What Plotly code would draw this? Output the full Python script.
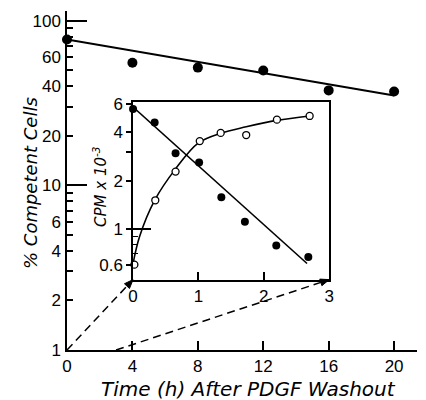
import plotly.graph_objects as go

# ---------------- data ----------------
main_x = [0, 4, 8, 12, 16, 20]
main_y = [77, 55.7, 52, 49.9, 37.8, 37.2]
main_fit_x = [0, 20]
main_fit_y = [77, 35.2]

ins_filled_x = [0.0, 0.33, 0.65, 1.01, 1.35, 1.71, 2.19, 2.68]
ins_filled_y = [5.6, 4.6, 2.96, 2.6, 1.58, 1.11, 0.79, 0.67]
ins_filled_fit_x = [0.0, 2.66]
ins_filled_fit_y = [5.75, 0.61]

ins_open_x = [0.02, 0.34, 0.65, 1.02, 1.34, 1.73, 2.2, 2.7]
ins_open_y = [0.60, 1.51, 2.28, 3.53, 3.97, 3.85, 4.8, 5.06]
ins_curve_x = [0.0, 0.1, 0.33, 0.65, 1.0, 1.34, 1.73, 2.2, 2.7]
ins_curve_y = [0.61, 0.9, 1.51, 2.37, 3.44, 3.95, 4.33, 4.75, 5.06]

main_xticks = [0, 4, 8, 12, 16, 20]
main_yticks = [1, 2, 4, 6, 10, 20, 40, 60, 100]
main_yminor = [3, 5, 7, 8, 9, 30, 50, 70, 80, 90]
ins_xticks = [0, 1, 2, 3]
ins_yticks = [0.6, 1, 2, 4, 6]
ins_ytext = ["0.6", "1", "2", "4", "6"]

# ---------------- layout geometry ----------------
W, H = 426, 400
ML, MR, MT, MB = 67, 4, 8, 50
PW, PH = W - ML - MR, H - MT - MB
X1_RANGE = [0, 21.4]
Y1_RANGE = [0, 2.06]
X2_DOM = [(134 - ML) / PW, (333 - ML) / PW]
Y2_DOM = [(MT + PH - 279) / PH, (MT + PH - 100) / PH]
X2_RANGE = [0, 3]
Y2_RANGE = [-0.315, 0.79]

TICKFONT = dict(family="Liberation Sans, Arial, sans-serif", size=17, color="black")
TITLEFONT = dict(family="DejaVu Sans, sans-serif", size=20, color="black")

fig = go.Figure()

# main panel
fig.add_trace(go.Scatter(x=main_fit_x, y=main_fit_y, mode="lines",
                         line=dict(color="black", width=2), cliponaxis=False,
                         showlegend=False, hoverinfo="skip"))
fig.add_trace(go.Scatter(x=main_x, y=main_y, mode="markers",
                         marker=dict(color="black", size=10), cliponaxis=False,
                         showlegend=False))

# inset
fig.add_trace(go.Scatter(x=ins_filled_fit_x, y=ins_filled_fit_y, mode="lines",
                         line=dict(color="black", width=1.6), xaxis="x2", yaxis="y2",
                         cliponaxis=False, showlegend=False, hoverinfo="skip"))
fig.add_trace(go.Scatter(x=ins_curve_x, y=ins_curve_y, mode="lines",
                         line=dict(color="black", width=1.6, shape="spline", smoothing=1.0),
                         xaxis="x2", yaxis="y2", cliponaxis=False, showlegend=False,
                         hoverinfo="skip"))
fig.add_trace(go.Scatter(x=ins_filled_x, y=ins_filled_y, mode="markers",
                         marker=dict(color="black", size=8), xaxis="x2", yaxis="y2",
                         cliponaxis=False, showlegend=False))
fig.add_trace(go.Scatter(x=ins_open_x, y=ins_open_y, mode="markers",
                         marker=dict(color="white", size=7, line=dict(color="black", width=1.3)),
                         xaxis="x2", yaxis="y2", cliponaxis=False, showlegend=False))

# invisible traces to anchor the overlay tick axes
fig.add_trace(go.Scatter(x=[1], y=[10], mode="markers", marker=dict(opacity=0),
                         yaxis="y4", showlegend=False, hoverinfo="skip"))
fig.add_trace(go.Scatter(x=[1], y=[1], mode="markers", marker=dict(opacity=0),
                         xaxis="x2", yaxis="y3", showlegend=False, hoverinfo="skip"))

axis_common = dict(showgrid=False, zeroline=False, showline=True, linecolor="black",
                   linewidth=1.5, tickcolor="black", tickwidth=1.5, tickfont=TICKFONT)

fig.update_layout(
    width=W, height=H,
    margin=dict(l=ML, r=MR, t=MT, b=MB),
    paper_bgcolor="white", plot_bgcolor="rgba(0,0,0,0)",
    xaxis=dict(range=X1_RANGE, tickvals=main_xticks, ticks="inside", ticklen=9,
               anchor="y", ticklabelstandoff=0, **axis_common),
    yaxis=dict(type="log", range=Y1_RANGE, tickvals=main_yticks,
               ticktext=[str(v) for v in main_yticks], ticks="inside", ticklen=6,
               anchor="x", ticklabelstandoff=1,
               minor=dict(tickmode="array", tickvals=main_yminor, ticks="inside",
                          ticklen=6, tickcolor="black", tickwidth=1.5),
               **axis_common),
    yaxis4=dict(type="log", range=Y1_RANGE, overlaying="y", anchor="x", side="left",
                tickvals=[10, 100], ticks="inside", ticklen=20, tickwidth=1.5,
                tickcolor="black", showticklabels=False, showgrid=False,
                zeroline=False, showline=False),
    xaxis2=dict(domain=X2_DOM, range=X2_RANGE, anchor="y2", tickvals=ins_xticks,
                ticks="inside", ticklen=8, mirror=True, **axis_common),
    yaxis2=dict(domain=Y2_DOM, type="log", range=Y2_RANGE, anchor="x2",
                tickvals=ins_yticks, ticktext=ins_ytext, ticks="outside", ticklen=5,
                mirror=True, ticklabelstandoff=0,
                minor=dict(tickmode="array", tickvals=[3], ticks="outside", ticklen=5,
                           tickcolor="black", tickwidth=1.5),
                **axis_common),
    yaxis3=dict(type="log", range=Y2_RANGE, overlaying="y2", anchor="x2", side="left",
                tickvals=[1], ticks="inside", ticklen=18, tickwidth=1.5,
                tickcolor="black", showticklabels=False, showgrid=False,
                zeroline=False, showline=False,
                minor=dict(tickmode="array", tickvals=[0.7, 0.8, 0.9], ticks="inside",
                           ticklen=5, tickcolor="black", tickwidth=1.2)),
)

# axis titles
fig.add_annotation(text="<i>% Competent Cells</i>", xref="paper", yref="paper",
                   x=(30 - ML) / PW, y=(MT + PH - 182) / PH, textangle=-90,
                   showarrow=False, font=dict(TITLEFONT, size=18),
                   xanchor="center", yanchor="middle")
fig.add_annotation(text="<i>Time (h) After PDGF Washout</i>", xref="paper", yref="paper",
                   x=(251 - ML) / PW, y=(MT + PH - 389) / PH,
                   showarrow=False, font=TITLEFONT, xanchor="center", yanchor="middle",
                   borderpad=0)
fig.add_annotation(text="<i>CPM x 10<sup>-3</sup></i>", xref="paper", yref="paper",
                   x=(101 - ML) / PW, y=(MT + PH - 186) / PH, textangle=-90,
                   showarrow=False, font=dict(family="DejaVu Sans, sans-serif", size=15,
                                              color="black"),
                   xanchor="center", yanchor="middle")

# dashed connector arrows (main axis -> inset axis)
def main_to_paper(xv, logy):
    return ((xv - X1_RANGE[0]) / (X1_RANGE[1] - X1_RANGE[0]),
            (logy - Y1_RANGE[0]) / (Y1_RANGE[1] - Y1_RANGE[0]))

def inset_to_paper(xv, logy):
    fx = (xv - X2_RANGE[0]) / (X2_RANGE[1] - X2_RANGE[0])
    fy = (logy - Y2_RANGE[0]) / (Y2_RANGE[1] - Y2_RANGE[0])
    return (X2_DOM[0] + fx * (X2_DOM[1] - X2_DOM[0]),
            Y2_DOM[0] + fy * (Y2_DOM[1] - Y2_DOM[0]))

connectors = [((0, 0), (0, Y2_RANGE[0])), ((3, 0), (3, Y2_RANGE[0]))]
for (mx, my), (ix, iy) in connectors:
    x0, y0 = main_to_paper(mx, my)
    x1, y1 = inset_to_paper(ix, iy)
    dxp, dyp = (x1 - x0) * PW, (y1 - y0) * PH
    n = (dxp ** 2 + dyp ** 2) ** 0.5
    ux, uy = dxp / n, dyp / n
    HL, HW = 9, 3.5
    bx, by = x1 - ux * HL / PW, y1 - uy * HL / PH
    fig.add_shape(type="line", xref="paper", yref="paper", x0=x0, y0=y0, x1=bx, y1=by,
                  line=dict(color="black", width=1.5, dash="8px,5px"))
    px, py = -uy, ux
    p1 = (bx + px * HW / PW, by + py * HW / PH)
    p2 = (bx - px * HW / PW, by - py * HW / PH)
    path = f"M {x1},{y1} L {p1[0]},{p1[1]} L {p2[0]},{p2[1]} Z"
    fig.add_shape(type="path", xref="paper", yref="paper", path=path,
                  fillcolor="black", line=dict(color="black", width=1))

fig.write_html("out.html")
